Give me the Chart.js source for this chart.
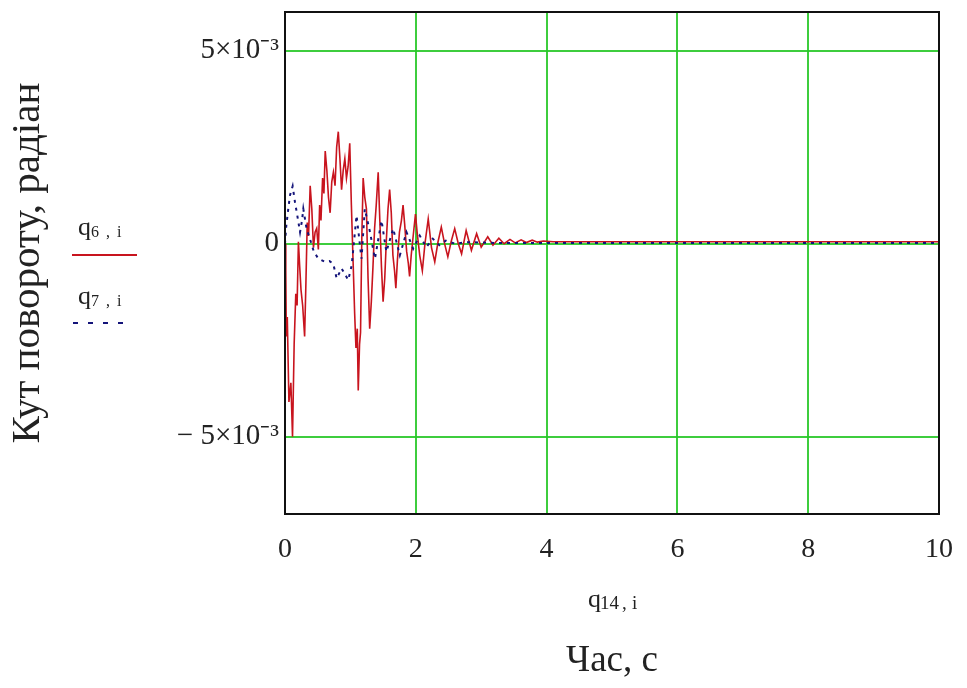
<!DOCTYPE html>
<html>
<head>
<meta charset="utf-8">
<script src="https://cdn.jsdelivr.net/npm/chart.js@4/dist/chart.umd.min.js"></script>
<style>
  html, body { margin: 0; padding: 0; background: #fff; }
  #wrap { width: 967px; height: 688px; }
</style>
</head>
<body>
<div id="wrap"><canvas id="chart" width="967" height="688"></canvas></div>
<script>
// time axis, s
const xTicks = [0, 2, 4, 6, 8, 10];

// angle axis, rad
const yTicks = [-0.005, 0, 0.005];
const yTickLabels = ["\u2212 5\u00d710\u207b\u00b3", "0", "5\u00d710\u207b\u00b3"];

// q6,i  (red solid)
const q6Time = [
  0.000, 0.012, 0.020, 0.035, 0.060, 0.090, 0.115, 0.140, 0.165, 0.185,
  0.205, 0.225, 0.245, 0.270, 0.300, 0.320, 0.340, 0.360, 0.385, 0.410,
  0.435, 0.460, 0.485, 0.510, 0.530, 0.550, 0.575, 0.595, 0.615, 0.640,
  0.665, 0.690, 0.715, 0.740, 0.765, 0.790, 0.815, 0.840, 0.865, 0.890,
  0.915, 0.940, 0.965, 0.990, 1.015, 1.040, 1.065, 1.085, 1.105, 1.120,
  1.140, 1.155, 1.175, 1.195, 1.220, 1.245, 1.270, 1.295, 1.320, 1.345,
  1.370, 1.395, 1.425, 1.450, 1.475, 1.500, 1.525, 1.550, 1.575, 1.600,
  1.625, 1.650, 1.675, 1.695, 1.720, 1.750, 1.780, 1.805, 1.830, 1.860,
  1.885, 1.905, 1.930, 1.960, 1.995, 2.020, 2.060, 2.100, 2.140, 2.190,
  2.240, 2.290, 2.340, 2.390, 2.440, 2.490, 2.540, 2.595, 2.650, 2.700,
  2.770, 2.850, 2.930, 3.000, 3.100, 3.180, 3.270, 3.350, 3.440, 3.520,
  3.610, 3.690, 3.780, 3.860, 3.950, 4.100, 5.000, 10.000
];
const q6Values = [
   0.00000, -0.00070, -0.00240, -0.00190, -0.00410, -0.00360, -0.00500, -0.00260, -0.00130, -0.00160,
   0.00005, -0.00060, -0.00120, -0.00160, -0.00240, -0.00100,  0.00055,  0.00020,  0.00150,  0.00090,
  -0.00010,  0.00030,  0.00040, -0.00015,  0.00100,  0.00060,  0.00170,  0.00130,  0.00240,  0.00190,
   0.00120,  0.00080,  0.00160,  0.00185,  0.00150,  0.00250,  0.00290,  0.00220,  0.00140,  0.00190,
   0.00220,  0.00170,  0.00200,  0.00260,  0.00100, -0.00040, -0.00180, -0.00270, -0.00220, -0.00380,
  -0.00260, -0.00230,  0.00020,  0.00170,  0.00120,  0.00090, -0.00090, -0.00220, -0.00150, -0.00060,
   0.00040,  0.00100,  0.00185,  0.00060, -0.00060, -0.00150, -0.00090,  0.00010,  0.00090,  0.00140,
   0.00080, -0.00030, -0.00070, -0.00115, -0.00040,  0.00030,  0.00060,  0.00100,  0.00050, -0.00020,
  -0.00050, -0.00085, -0.00030,  0.00020,  0.00077,  0.00030, -0.00030, -0.00070,  0.00000,  0.00064,
  -0.00010, -0.00047,  0.00005,  0.00043,  0.00000, -0.00034,  0.00005,  0.00039,  0.00000, -0.00026,
   0.00034, -0.00017,  0.00026, -0.00009,  0.00018, -0.00004,  0.00014,  0.00000,  0.00011,  0.00002,
   0.00010,  0.00003,  0.00009,  0.00004,  0.00007,  0.00005,  0.00005,  0.00005
];

// q7,i  (blue dotted)
const q7Time = [
  0.000, 0.020, 0.050, 0.076, 0.117, 0.153, 0.188, 0.230, 0.260, 0.280,
  0.330, 0.380, 0.440, 0.510, 0.610, 0.680, 0.738, 0.790, 0.865, 0.920,
  0.967, 1.020, 1.094, 1.170, 1.220, 1.300, 1.375, 1.476, 1.550, 1.654,
  1.756, 1.858, 1.960, 2.060, 2.160, 2.260, 2.360, 2.460, 2.600, 2.800,
  3.200, 4.000, 10.000
];
const q7Values = [
   0.00000,  0.00047,  0.00090,  0.00125,  0.00149,  0.00107,  0.00073,  0.00030,  0.00060,  0.00090,
   0.00039,  0.00013, -0.00020, -0.00039, -0.00047, -0.00045, -0.00052, -0.00090, -0.00064, -0.00080,
  -0.00094, -0.00056,  0.00073, -0.00039,  0.00090,  0.00030, -0.00039,  0.00060, -0.00021,  0.00039,
  -0.00030,  0.00030, -0.00013,  0.00021, -0.00009,  0.00013, -0.00004,  0.00008,  0.00000,  0.00004,
   0.00002,  0.00002,  0.00002
];

const serif = '"Liberation Serif", "Times New Roman", serif';
const gridGreen = "rgba(40, 200, 40, 0.9)";
const red = "#c8141e";
const navy = "#14147a";

// small labels q6,i / q7,i / q14,i and the frame
const extras = {
  id: "extras",
  afterDraw(chart) {
    const ctx = chart.ctx;
    const a = chart.chartArea;
    ctx.save();
    ctx.strokeStyle = "#111";
    ctx.lineWidth = 2;
    ctx.strokeRect(a.left, a.top, a.right - a.left, a.bottom - a.top);

    // "q" with a spaced subscript, e.g. q 6 , i
    const label = (x, y, size, subSize, parts) => {
      ctx.fillStyle = "#222";
      ctx.textBaseline = "alphabetic";
      ctx.textAlign = "left";
      ctx.font = size + "px " + serif;
      ctx.fillText("q", x, y);
      ctx.font = subSize + "px " + serif;
      parts.forEach(([txt, dx]) => ctx.fillText(txt, x + dx, y + 2));
    };
    label(78, 235, 26, 16, [["6", 13], [",", 28], ["i", 39]]);
    label(78, 304, 26, 16, [["7", 13], [",", 28], ["i", 39]]);
    label(588, 607, 26, 19, [["14", 12], [",", 34], ["i", 44]]);

    ctx.lineWidth = 2;
    ctx.strokeStyle = red;
    ctx.beginPath();
    ctx.moveTo(72, 255); ctx.lineTo(137, 255);
    ctx.stroke();
    ctx.strokeStyle = navy;
    ctx.setLineDash([5, 10]);
    ctx.beginPath();
    ctx.moveTo(73, 323); ctx.lineTo(126, 323);
    ctx.stroke();
    ctx.restore();
  }
};

const ctx = document.getElementById("chart").getContext("2d");
new Chart(ctx, {
  type: "line",
  data: {
    datasets: [
      {
        label: "q7,i",
        data: q7Time.map((t, i) => ({ x: t, y: q7Values[i] })),
        borderColor: navy,
        borderWidth: 2,
        borderDash: [3, 5],
        pointRadius: 0,
        tension: 0,
        order: 0
      },
      {
        label: "q6,i",
        data: q6Time.map((t, i) => ({ x: t, y: q6Values[i] })),
        borderColor: red,
        borderWidth: 1.6,
        pointRadius: 0,
        tension: 0,
        order: 1
      }
    ]
  },
  options: {
    responsive: false,
    animation: false,
    layout: { padding: { left: 0, right: 28, top: 12, bottom: 0 } },
    plugins: {
      legend: { display: false },
      tooltip: { enabled: false }
    },
    scales: {
      x: {
        type: "linear",
        min: 0,
        max: 10,
        afterBuildTicks: s => { s.ticks = xTicks.map(v => ({ value: v })); },
        afterFit: s => { s.height = 174; s.paddingLeft = 0; s.paddingRight = 0; },
        grid: { color: gridGreen, lineWidth: 2, drawTicks: false },
        border: { display: false },
        ticks: { font: { family: serif, size: 28 }, color: "#222", padding: 19, maxRotation: 0 },
        title: {
          display: true,
          text: "Час, с",
          font: { family: serif, size: 37 },
          color: "#222",
          padding: { top: 0, bottom: 5 }
        }
      },
      y: {
        min: -0.007,
        max: 0.006,
        afterBuildTicks: s => { s.ticks = yTicks.map(v => ({ value: v })); },
        afterFit: s => { s.width = 285; s.paddingTop = 0; s.paddingBottom = 0; },
        grid: { color: gridGreen, lineWidth: 2, drawTicks: false },
        border: { display: false },
        ticks: {
          font: { family: serif, size: 29 },
          color: "#222",
          padding: 6,
          callback: v => yTickLabels[yTicks.indexOf(v)]
        },
        title: {
          display: true,
          text: "Кут повороту, радіан",
          font: { family: serif, size: 41 },
          color: "#222",
          padding: { top: 4, bottom: 0 }
        }
      }
    }
  },
  plugins: [extras]
});
</script>
</body>
</html>
